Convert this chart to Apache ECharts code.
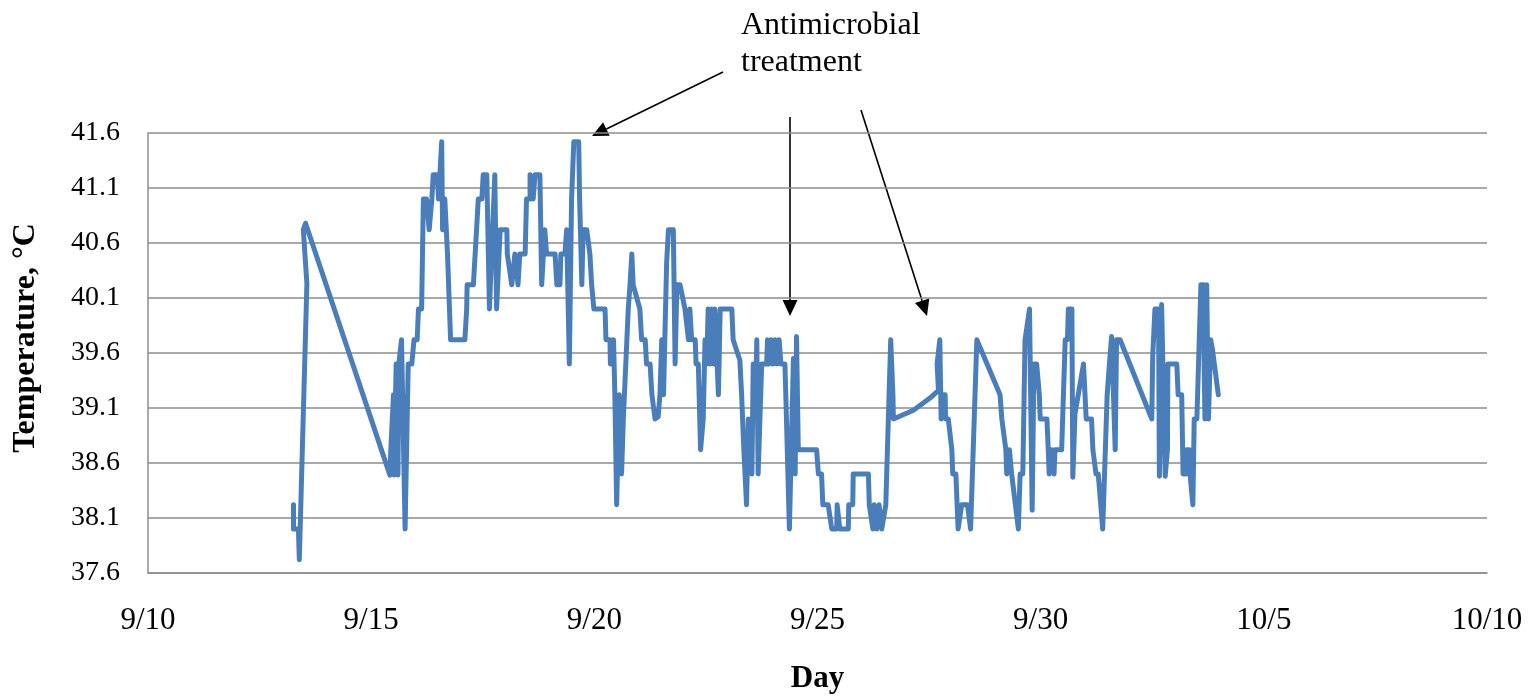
<!DOCTYPE html>
<html>
<head>
<meta charset="utf-8">
<title>Temperature</title>
<script src="https://cdn.jsdelivr.net/npm/echarts@6/dist/echarts.min.js"></script>
<style>
  html, body { margin: 0; padding: 0; background: #fff; }
  #chart { width: 1536px; height: 699px; }
</style>
</head>
<body>
<div id="chart"></div>
<script>
// days since 9/10 (00:00) for each reading
const days = [
  3.26, 3.26, 3.37, 3.39, 3.56, 3.48, 3.53, 5.42, 5.44, 5.50,
  5.51, 5.56, 5.60, 5.62, 5.68, 5.76, 5.83, 5.91, 5.96, 6.03,
  6.06, 6.13, 6.17, 6.24, 6.30, 6.36, 6.39, 6.48, 6.51, 6.58,
  6.60, 6.65, 6.65, 6.69, 6.71, 6.75, 6.78, 7.10, 7.14, 7.15,
  7.29, 7.33, 7.40, 7.48, 7.51, 7.59, 7.65, 7.77, 7.81, 7.89,
  8.04, 8.05, 8.15, 8.22, 8.29, 8.33, 8.45, 8.48, 8.56, 8.56,
  8.63, 8.67, 8.78, 8.82, 8.89, 8.93, 9.12, 9.16, 9.23, 9.25,
  9.34, 9.38, 9.44, 9.49, 9.54, 9.65, 9.67, 9.72, 9.75, 9.83,
  9.90, 9.94, 9.98, 9.99, 10.24, 10.26, 10.35, 10.36, 10.41, 10.43,
  10.46, 10.50, 10.56, 10.61, 10.65, 10.76, 10.80, 10.84, 10.87, 11.02,
  11.06, 11.14, 11.17, 11.25, 11.29, 11.36, 11.43, 11.47, 11.51, 11.55,
  11.62, 11.66, 11.77, 11.81, 11.85, 11.92, 12.03, 12.11, 12.14, 12.18,
  12.26, 12.28, 12.33, 12.38, 12.44, 12.48, 12.52, 12.55, 12.59, 12.63,
  12.67, 12.70, 12.78, 12.82, 13.08, 13.11, 13.23, 13.26, 13.30, 13.34,
  13.35, 13.41, 13.45, 13.53, 13.56, 13.60, 13.64, 13.67, 13.75, 13.86,
  13.88, 13.91, 13.96, 14.00, 14.05, 14.09, 14.14, 14.18, 14.27, 14.29,
  14.37, 14.46, 14.50, 14.53, 14.57, 14.98, 15.02, 15.09, 15.12, 15.24,
  15.32, 15.43, 15.44, 15.50, 15.69, 15.70, 15.79, 15.80, 16.14, 16.16,
  16.24, 16.27, 16.33, 16.38, 16.44, 16.47, 16.53, 16.64, 16.69, 16.70,
  17.15, 17.52, 17.71, 17.68, 17.74, 17.77, 17.81, 17.86, 17.87, 17.93,
  18.01, 18.03, 18.10, 18.15, 18.23, 18.36, 18.43, 18.57, 19.09, 19.13,
  19.22, 19.24, 19.30, 19.35, 19.50, 19.54, 19.60, 19.65, 19.75, 19.81,
  19.85, 19.91, 19.97, 19.99, 20.14, 20.17, 20.19, 20.25, 20.30, 20.32,
  20.47, 20.55, 20.60, 20.62, 20.70, 20.72, 20.77, 20.96, 20.99, 21.02,
  21.14, 21.17, 21.24, 21.29, 21.39, 21.49, 21.54, 21.59, 21.67, 21.70,
  21.78, 22.49, 22.51, 22.56, 22.64, 22.66, 22.71, 22.75, 22.79, 22.84,
  22.85, 23.05, 23.08, 23.16, 23.19, 23.26, 23.27, 23.33, 23.35, 23.41,
  23.44, 23.50, 23.59, 23.64, 23.68, 23.72, 23.76, 23.81, 23.85, 23.98
];
// temperature, °C
const temps = [
  38.22, 38.00, 38.00, 37.72, 40.23, 40.72, 40.78, 38.49, 38.72, 39.22,
  38.49, 39.50, 38.49, 39.50, 39.72, 38.00, 39.50, 39.50, 39.72, 39.72,
  40.00, 40.00, 41.00, 41.00, 40.72, 41.00, 41.22, 41.22, 41.00, 41.52,
  40.72, 40.72, 41.00, 41.00, 40.50, 40.50, 39.72, 39.72, 40.00, 40.22,
  40.22, 40.50, 41.00, 41.00, 41.22, 41.22, 40.00, 41.22, 40.00, 40.72,
  40.72, 40.50, 40.22, 40.50, 40.22, 40.50, 40.50, 41.00, 41.00, 41.22,
  41.00, 41.22, 41.22, 40.22, 40.72, 40.50, 40.50, 40.22, 40.22, 40.50,
  40.50, 40.72, 39.50, 41.00, 41.52, 41.52, 41.00, 40.22, 40.72, 40.72,
  40.50, 40.22, 40.22, 40.00, 40.00, 39.72, 39.72, 39.50, 39.50, 39.72,
  39.22, 38.22, 39.22, 38.50, 39.00, 40.00, 40.22, 40.50, 40.22, 40.00,
  39.72, 39.72, 39.50, 39.50, 39.22, 39.00, 39.02, 39.22, 39.72, 39.22,
  40.42, 40.72, 40.72, 39.50, 40.22, 40.22, 40.00, 39.72, 40.00, 39.72,
  39.72, 39.50, 39.50, 38.72, 39.00, 39.72, 39.50, 40.00, 39.50, 40.00,
  39.50, 40.00, 39.22, 40.00, 40.00, 39.72, 39.57, 39.54, 39.22, 39.22,
  38.72, 38.22, 39.00, 38.50, 39.50, 39.00, 39.72, 38.50, 39.50, 39.50,
  39.72, 39.50, 39.72, 39.50, 39.72, 39.50, 39.72, 39.50, 39.50, 39.22,
  38.00, 39.55, 38.50, 39.75, 38.72, 38.72, 38.50, 38.50, 38.22, 38.22,
  38.00, 38.00, 38.22, 38.00, 38.00, 38.22, 38.22, 38.50, 38.50, 38.22,
  38.00, 38.22, 38.00, 38.22, 38.00, 38.00, 38.22, 39.72, 39.22, 39.00,
  39.08, 39.19, 39.26, 39.50, 39.72, 39.00, 39.22, 39.22, 39.00, 39.00,
  38.72, 38.50, 38.50, 38.00, 38.22, 38.22, 38.00, 39.72, 39.22, 39.00,
  38.72, 38.50, 38.72, 38.50, 38.00, 38.50, 38.50, 39.72, 40.00, 38.17,
  39.50, 39.50, 39.22, 39.00, 39.00, 38.72, 38.50, 38.72, 38.50, 38.72,
  38.72, 39.72, 39.72, 40.00, 40.00, 38.47, 39.05, 39.50, 39.50, 39.00,
  39.00, 38.72, 38.50, 38.50, 38.00, 39.22, 39.50, 39.75, 38.72, 39.72,
  39.72, 39.00, 39.57, 40.00, 40.00, 38.48, 40.04, 40.04, 38.48, 38.72,
  39.50, 39.50, 39.22, 39.22, 38.50, 38.50, 38.72, 38.72, 38.48, 38.22,
  39.00, 39.00, 40.22, 40.22, 39.00, 40.22, 39.00, 39.72, 39.63, 39.22
];
const xTickLabels = ['9/10', '9/15', '9/20', '9/25', '9/30', '10/5', '10/10'];
const yTicks = [37.6, 38.1, 38.6, 39.1, 39.6, 40.1, 40.6, 41.1, 41.6];

const serif = '"Liberation Serif", "Times New Roman", serif';
const chart = echarts.init(document.getElementById('chart'));

// arrow = line + filled triangular head at (x2, y2)
function arrow(x1, y1, x2, y2) {
  const len = Math.hypot(x2 - x1, y2 - y1);
  const ux = (x2 - x1) / len, uy = (y2 - y1) / len;
  const hl = 16, hw = 7.5;
  const bx = x2 - ux * hl, by = y2 - uy * hl;
  return [
    {
      type: 'line',
      shape: { x1: x1, y1: y1, x2: bx, y2: by },
      style: { stroke: '#000', lineWidth: 1.6 }
    },
    {
      type: 'polygon',
      shape: { points: [[x2, y2], [bx - uy * hw, by + ux * hw], [bx + uy * hw, by - ux * hw]] },
      style: { fill: '#000' }
    }
  ];
}

const option = {
  animation: false,
  grid: { left: 148, right: 49, top: 133, bottom: 126 },
  xAxis: {
    type: 'value',
    min: 0,
    max: 30,
    interval: 5,
    name: 'Day',
    nameLocation: 'middle',
    nameGap: 90,
    nameTextStyle: { fontFamily: serif, fontSize: 31, fontWeight: 'bold', color: '#000' },
    axisLine: { show: true, lineStyle: { color: '#8c8c8c', width: 1.5 } },
    axisTick: { show: false },
    splitLine: { show: false },
    axisLabel: {
      margin: 32,
      fontFamily: serif,
      fontSize: 31,
      color: '#000',
      formatter: function (v) { return xTickLabels[Math.round(v / 5)]; }
    }
  },
  yAxis: {
    type: 'value',
    min: 37.6,
    max: 41.6,
    name: 'Temperature, °C',
    nameLocation: 'middle',
    nameGap: 106,
    nameTextStyle: {
      fontFamily: serif, fontSize: 32, fontWeight: 'bold', color: '#000',
      padding: [0, 0, 0, 30]
    },
    axisLine: { show: true, lineStyle: { color: '#8c8c8c', width: 1.5 } },
    axisTick: { show: false, customValues: yTicks },
    splitLine: { show: true, lineStyle: { color: '#8c8c8c', width: 1.5 } },
    axisLabel: {
      customValues: yTicks,
      margin: 28,
      fontFamily: serif,
      fontSize: 28,
      color: '#000',
      formatter: function (v) { return v.toFixed(1); }
    }
  },
  series: [
    {
      type: 'line',
      data: days.map(function (d, i) { return [d, temps[i]]; }),
      showSymbol: false,
      lineStyle: { color: '#4a7ebb', width: 5, cap: 'round', join: 'round' }
    }
  ],
  graphic: [
    {
      type: 'text',
      left: 741,
      top: 7,
      style: {
        text: 'Antimicrobial\ntreatment',
        font: '32px ' + serif,
        lineHeight: 37,
        fill: '#000'
      }
    }
  ].concat(
    arrow(723, 72, 592, 136),
    arrow(790, 117, 790, 316),
    arrow(861, 110, 927, 316)
  )
};
chart.setOption(option);
</script>
</body>
</html>
